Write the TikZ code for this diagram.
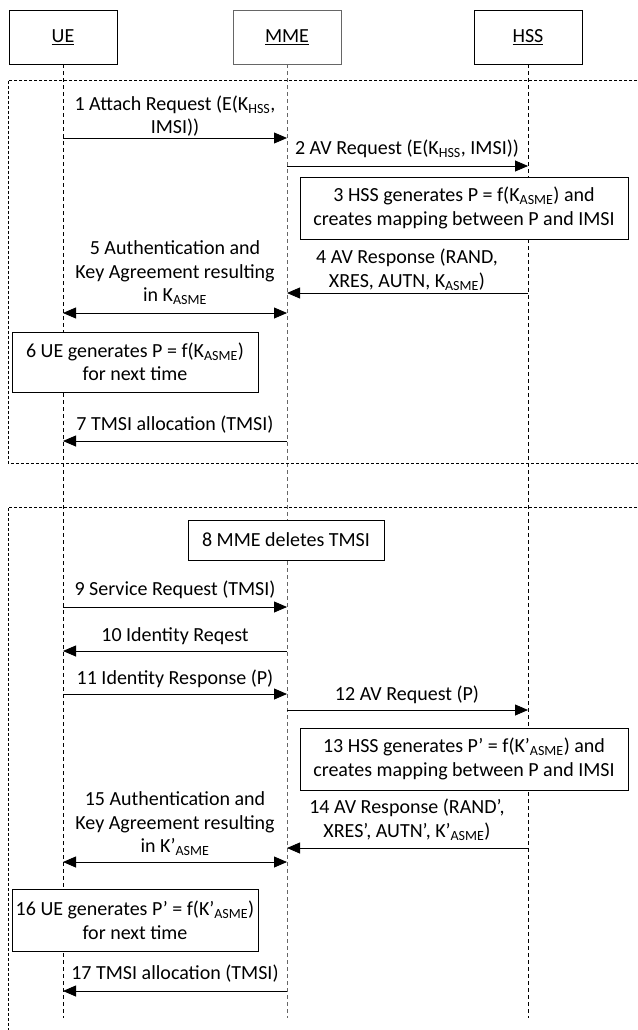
\documentclass[tikz,border=0pt]{standalone}
\usepackage{fontspec}
\setmainfont{Carlito}
\usetikzlibrary{arrows.meta}
\newcommand{\subt}[1]{\textsubscript{#1}}
\begin{document}
\begin{tikzpicture}[x=1pt,y=-1pt,
  txt/.style={font=\fontsize{20}{23.5}\selectfont},
  part/.style={txt, draw, line width=0.8pt, minimum width=108pt, minimum height=54pt, inner sep=0pt},
  life/.style={line width=0.8pt, dash pattern=on 4pt off 3pt},
  frm/.style={line width=0.8pt, dash pattern=on 3pt off 2pt},
  msg/.style={line width=0.8pt, -{Triangle[length=13pt,width=11pt]}},
  dmsg/.style={line width=0.8pt, {Triangle[length=13pt,width=11pt]}-{Triangle[length=13pt,width=11pt]}},
  lbl/.style={txt, align=center, inner sep=0pt},
  act/.style={txt, align=center, draw, fill=white, line width=0.8pt, inner sep=0pt},
]
\useasboundingbox (0,0) rectangle (637,1030);

% participants
\node[part] (ue) at (63,37) {\underline{UE}};
\node[part, draw=black!60] (mme) at (287,37) {\underline{MME}};
\node[part] (hss) at (528,37) {\underline{HSS}};

% lifelines
\coordinate (yend) at (0,1018);
\draw[life] (ue.south) -- (ue.south |- yend);
\draw[life, draw=black!60] (mme.south) -- (mme.south |- yend);
\draw[life] (hss.south) -- (hss.south |- yend);

% frames
\coordinate (f1a) at (642,80);
\coordinate (f1b) at (8,80);
\coordinate (f1c) at (8,463);
\coordinate (f1d) at (642,463);
\draw[frm] (f1a) -- (f1b) -- (f1c) -- (f1d);
\coordinate (f2a) at (642,507);
\coordinate (f2b) at (8,507);
\coordinate (f2c) at (8,1035);
\draw[frm] (f2a) -- (f2b) -- (f2c);

% action boxes
\node[act, minimum width=328pt, minimum height=62pt] (a3) at (464,208)
  {3 HSS generates P = f(K\subt{ASME}) and\\creates mapping between P and IMSI};
\node[act, minimum width=246pt, minimum height=60pt] (a6) at (135,362)
  {6 UE generates P = f(K\subt{ASME})\\for next time};
\node[act, minimum width=196pt, minimum height=40pt] (a8) at (286,540)
  {8 MME deletes TMSI};
\node[act, minimum width=328pt, minimum height=62pt] (a13) at (464,759)
  {13 HSS generates P’ = f(K’\subt{ASME}) and\\creates mapping between P and IMSI};
\node[act, minimum width=246pt, minimum height=62pt] (a16) at (135,920)
  {16 UE generates P’ = f(K’\subt{ASME})\\for next time};

% message levels
\coordinate (y1) at (0,138);
\coordinate (y2) at (0,166);
\coordinate (y4) at (0,293);
\coordinate (y5) at (0,313);
\coordinate (y7) at (0,441);
\coordinate (y9) at (0,607);
\coordinate (y10) at (0,651);
\coordinate (y11) at (0,694);
\coordinate (y12) at (0,710);
\coordinate (y14) at (0,848);
\coordinate (y15) at (0,862);
\coordinate (y17) at (0,991);

% messages
\draw[msg] (ue |- y1) -- (mme |- y1);
\draw[msg] (mme |- y2) -- (hss |- y2);
\draw[msg] (hss |- y4) -- (mme |- y4);
\draw[dmsg] (ue |- y5) -- (mme |- y5);
\draw[msg] (mme |- y7) -- (ue |- y7);
\draw[msg] (ue |- y9) -- (mme |- y9);
\draw[msg] (mme |- y10) -- (ue |- y10);
\draw[msg] (ue |- y11) -- (mme |- y11);
\draw[msg] (mme |- y12) -- (hss |- y12);
\draw[msg] (hss |- y14) -- (mme |- y14);
\draw[dmsg] (ue |- y15) -- (mme |- y15);
\draw[msg] (mme |- y17) -- (ue |- y17);

% labels
\node[lbl] (l1) at (175,116) {1 Attach Request (E(K\subt{HSS},\\IMSI))};
\node[lbl] (l2) at (407,149) {2 AV Request (E(K\subt{HSS}, IMSI))};
\node[lbl] (l4) at (407,270) {4 AV Response (RAND,\\XRES, AUTN, K\subt{ASME})};
\node[lbl] (l5) at (175,273) {5 Authentication and\\Key Agreement resulting\\in K\subt{ASME}};
\node[lbl] (l7) at (175,425) {7 TMSI allocation (TMSI)};
\node[lbl] (l9) at (175,590) {9 Service Request (TMSI)};
\node[lbl] (l10) at (175,636) {10 Identity Reqest};
\node[lbl] (l11) at (175,679) {11 Identity Response (P)};
\node[lbl] (l12) at (407,695) {12 AV Request (P)};
\node[lbl] (l14) at (407,820) {14 AV Response (RAND’,\\XRES’, AUTN’, K’\subt{ASME})};
\node[lbl] (l15) at (175,824) {15 Authentication and\\Key Agreement resulting\\in K’\subt{ASME}};
\node[lbl] (l17) at (175,974) {17 TMSI allocation (TMSI)};
\end{tikzpicture}
\end{document}
